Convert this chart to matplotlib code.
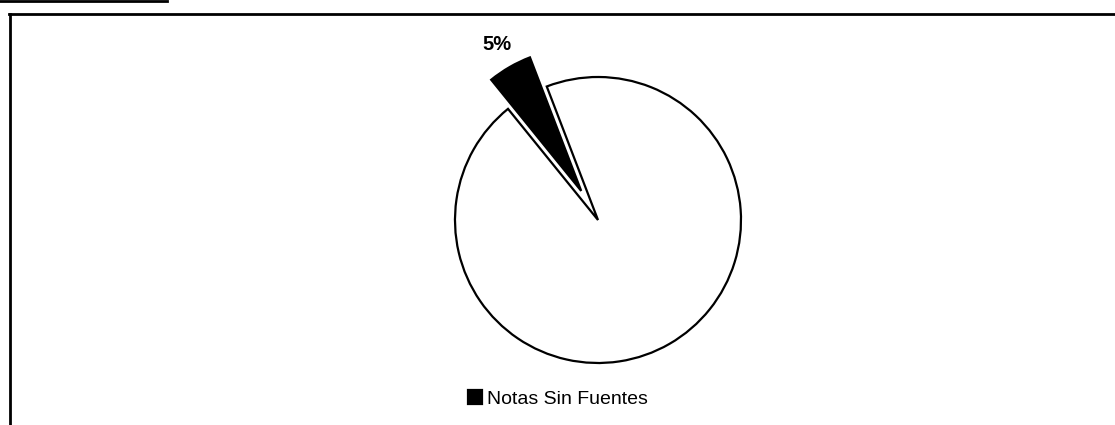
import matplotlib
matplotlib.use("Agg")
import matplotlib.pyplot as plt
from matplotlib.lines import Line2D

plt.rcParams['font.family'] = ['Liberation Sans', 'DejaVu Sans']

# datos del grafico
etiquetas = ["Notas Sin Fuentes", "Notas Con Fuentes"]
valores = [5, 95]
colores = ["black", "white"]
separacion = [0.235, 0.0]

W, H = 1115, 425
fig = plt.figure(figsize=(W / 100, H / 100), dpi=100)

# centro del pastel en pixeles y radio
cx, cy, r = 598, H - 220, 143
ax = fig.add_axes([0, 0, 1, 1])


def pct(p):
    # solo la porcion chica lleva etiqueta
    return "%.0f%%" % p if p < 50 else ""


wedges, textos, autotextos = ax.pie(
    valores, colors=colores, explode=separacion, startangle=111,
    counterclock=True, autopct=pct, pctdistance=1.18,
    wedgeprops=dict(edgecolor="black", linewidth=1.6),
    textprops=dict(fontsize=14.5, fontweight="bold"))

ax.set_xlim(-cx / r, (W - cx) / r)
ax.set_ylim(-cy / r, (H - cy) / r)
ax.set_aspect("auto")
ax.axis("off")

# leyenda (solo la primera serie se ve)
fig.legend([wedges[0]], [etiquetas[0]], loc="center",
           bbox_to_anchor=(558 / W, 1 - 399 / H), frameon=False,
           fontsize=14, handlelength=0.75, handleheight=0.75,
           handletextpad=0.25, borderpad=0, borderaxespad=0)

# marco
fig.add_artist(Line2D([8.5 / W, 1], [1 - 13.5 / H, 1 - 13.5 / H], color="black", lw=2))
fig.add_artist(Line2D([9.5 / W, 9.5 / W], [0, 1 - 13.5 / H], color="black", lw=2))
fig.add_artist(Line2D([0, 167 / W], [1 - 1 / H, 1 - 1 / H], color="black", lw=2))

fig.savefig("out.png", dpi=100, facecolor="white")
